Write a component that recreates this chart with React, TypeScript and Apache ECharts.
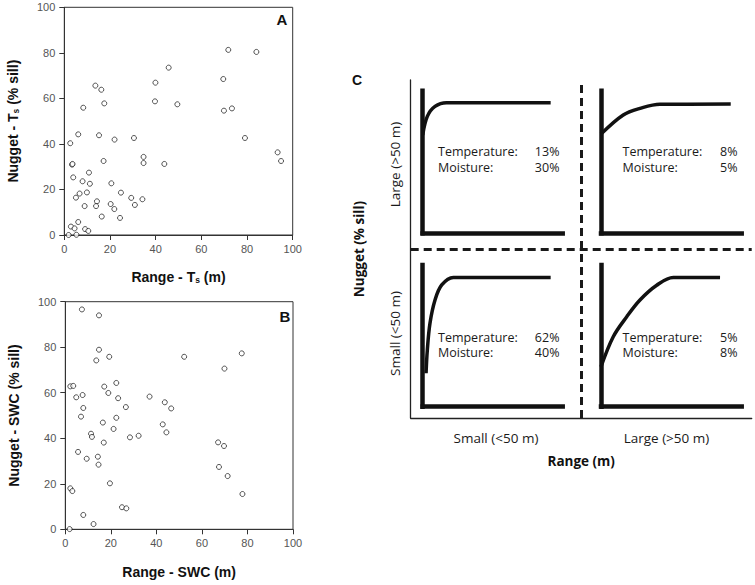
import React, { useEffect, useRef } from "react";
import * as echarts from "echarts";

// Panel A: range and nugget of soil temperature (Ts)
const tsRange = [71.8, 84.1, 45.7, 69.6, 39.9, 13.6, 16.2, 39.7, 49.5, 17.5, 8.3, 69.9, 73.4, 6.1, 15.2, 30.5, 22.0, 79.1, 2.6, 93.4, 94.9, 34.7, 34.7, 43.8, 17.2, 3.4, 3.6, 3.9, 10.8, 8.0, 11.2, 20.6, 6.7, 5.1, 9.9, 24.8, 29.3, 34.2, 14.3, 13.9, 8.9, 20.3, 30.9, 21.9, 16.4, 24.4, 6.1, 2.9, 4.5, 9.1, 10.5, 1.9, 5.3];
const tsNugget = [81.3, 80.4, 73.5, 68.5, 66.9, 65.6, 63.8, 58.7, 57.4, 57.8, 55.9, 54.6, 55.6, 44.2, 43.8, 42.6, 41.9, 42.6, 40.3, 36.3, 32.5, 34.3, 31.6, 31.2, 32.5, 30.9, 31.2, 25.3, 27.4, 23.6, 22.5, 22.7, 18.2, 16.4, 18.7, 18.6, 16.3, 15.7, 14.8, 12.7, 12.7, 13.6, 13.2, 11.4, 8.1, 7.5, 5.7, 3.7, 2.9, 2.6, 1.8, 0.0, 0.1];

// Panel B: range and nugget of soil water content (SWC)
const swcRange = [7.3, 14.8, 14.8, 13.6, 19.3, 52.2, 77.5, 69.9, 2.2, 3.5, 17.1, 22.4, 4.8, 7.6, 18.9, 23.2, 37.0, 7.9, 6.9, 26.6, 43.7, 46.5, 22.4, 16.5, 42.8, 44.4, 11.3, 11.7, 21.2, 28.4, 32.2, 16.9, 67.1, 69.7, 5.6, 9.4, 14.3, 14.6, 67.5, 71.3, 19.6, 2.2, 3.1, 77.8, 24.9, 26.8, 7.9, 12.4, 1.9];
const swcNugget = [96.6, 94.0, 78.9, 74.2, 75.8, 75.8, 77.3, 70.6, 62.8, 63.0, 62.7, 64.3, 58.0, 59.0, 59.9, 57.6, 58.3, 53.3, 49.5, 53.7, 55.8, 53.1, 49.0, 46.9, 46.1, 42.6, 42.0, 40.6, 44.1, 40.4, 41.1, 38.1, 38.2, 36.6, 34.0, 31.0, 31.9, 28.4, 27.4, 23.4, 20.2, 18.0, 16.8, 15.5, 9.7, 9.2, 6.3, 2.3, 0.1];

// Panel C: conceptual categories and percentages
const rangeClasses = ["Small (<50 m)", "Large (>50 m)"];
const nuggetClasses = ["Small (<50 m)", "Large (>50 m)"];
// order: top-left, top-right, bottom-left, bottom-right
const quadrantTemperature = ["13%", "8%", "62%", "5%"];
const quadrantMoisture = ["30%", "5%", "40%", "8%"];
// schematic variogram curves (x: % of panel width, y: % of panel height)
const curveTL = [[0, 69], [3.3, 82], [8.8, 89], [17, 91.6], [91.4, 91.6]];
const curveTR = [[0, 69.6], [15.8, 83], [27.7, 87.6], [41.9, 90.5], [92.2, 90.6]];
const curveBL = [[2.4, 23.6], [3.3, 40], [5.2, 58.9], [8.8, 75.3], [13.6, 85.9], [21.9, 91.2], [91.4, 91.2]];
const curveBR = [[0, 28.2], [8.7, 49.4], [18.3, 63.5], [27.7, 75.3], [39.6, 85.7], [51.4, 91.2], [84.6, 91.2]];

const ARIAL = "'Liberation Sans', Arial, sans-serif";
const MYRIAD = "'Open Sans', 'Noto Sans', sans-serif";

const zip = (xs: number[], ys: number[]) => xs.map((x, i) => [x, ys[i]]);

function scatterAxes(gridIndex: number, labelMargin: number) {
  return {
    gridIndex,
    type: "value" as const,
    min: 0,
    max: 100,
    interval: 20,
    axisLine: { show: true, lineStyle: { color: "#333", width: 1 } },
    axisTick: { show: true, length: 5, lineStyle: { color: "#333" } },
    splitLine: { show: false },
    axisLabel: { fontFamily: ARIAL, fontSize: 11, color: "#555", margin: labelMargin },
    nameLocation: "middle" as const,
  };
}

export default function App() {
  const ref = useRef<HTMLDivElement>(null);

  useEffect(() => {
    if (!ref.current) return;
    const chart = echarts.init(ref.current, null, { renderer: "svg" });

    const titleRich = {
      b: { fontFamily: ARIAL, fontWeight: "bold" as const, fontSize: 14, color: "#111" },
      s: { fontFamily: ARIAL, fontWeight: "bold" as const, fontSize: 8.5, color: "#111", verticalAlign: "bottom" as const, padding: [6, 0, 0, 0] },
    };

    const thickAxis = (gridIndex: number) => ({
      gridIndex,
      type: "value" as const,
      min: 0,
      max: 100,
      axisLine: { show: true, lineStyle: { color: "#111", width: 4.5, cap: "square" } },
      axisTick: { show: false },
      axisLabel: { show: false },
      splitLine: { show: false },
    });

    const curves = [curveTL, curveTR, curveBL, curveBR];

    const quadrantLeft = [438, 622.5, 438, 622.5];
    const quadrantRight = [559.5, 737.5, 559.5, 737.5];
    const quadrantTop = [151.7, 151.7, 337.3, 337.3];

    const annotations: any[] = [];
    quadrantTemperature.forEach((t, i) => {
      const txt = (x: number, y: number, s: string, align: string) => ({
        type: "text",
        x,
        y,
        style: { text: s, fontFamily: MYRIAD, fontSize: 12.5, fill: "#1a1a1a", align, verticalAlign: "middle" },
      });
      annotations.push(txt(quadrantLeft[i], quadrantTop[i], "Temperature:", "left"));
      annotations.push(txt(quadrantLeft[i], quadrantTop[i] + 15.5, "Moisture:", "left"));
      annotations.push(txt(quadrantRight[i], quadrantTop[i], t, "right"));
      annotations.push(txt(quadrantRight[i], quadrantTop[i] + 15.5, quadrantMoisture[i], "right"));
    });

    const option: any = {
      animation: false,
      backgroundColor: "#fff",
      grid: [
        { left: 64.3, top: 7.3, width: 228.4, height: 227.7, show: true, borderColor: "#333", borderWidth: 1, backgroundColor: "transparent" },
        { left: 65.3, top: 301.7, width: 227.7, height: 227.6, show: true, borderColor: "#333", borderWidth: 1, backgroundColor: "transparent" },
        { left: 410.7, top: 80, width: 341, height: 338 },
        { left: 422.7, top: 90.7, width: 140, height: 142.6 },
        { left: 601, top: 90.7, width: 140.7, height: 142.6 },
        { left: 422.7, top: 265, width: 140, height: 141.7 },
        { left: 601, top: 265, width: 140.7, height: 141.7 },
      ],
      xAxis: [
        { ...scatterAxes(0, 8), name: "{b|Range - T}{s|s}{b| (m)}", nameGap: 34, nameTextStyle: { rich: titleRich } },
        { ...scatterAxes(1, 8), name: "Range - SWC (m)", nameGap: 36, nameTextStyle: { fontFamily: ARIAL, fontWeight: "bold", fontSize: 14, color: "#111" } },
        {
          gridIndex: 2,
          type: "value",
          min: 0,
          max: 2,
          interval: 0.5,
          axisLine: { show: true, lineStyle: { color: "#222", width: 1.3 } },
          axisTick: { show: false },
          splitLine: { show: false },
          axisLabel: {
            margin: 13,
            fontFamily: MYRIAD,
            fontSize: 13.5,
            color: "#1a1a1a",
            formatter: (v: number) => (v === 0.5 ? rangeClasses[0] : v === 1.5 ? rangeClasses[1] : ""),
          },
          name: "Range (m)",
          nameLocation: "middle",
          nameGap: 36,
          nameTextStyle: { fontFamily: MYRIAD, fontWeight: "bold", fontSize: 13.5, color: "#111" },
        },
        thickAxis(3),
        thickAxis(4),
        thickAxis(5),
        thickAxis(6),
      ],
      yAxis: [
        { ...scatterAxes(0, 9), name: "{b|Nugget - T}{s|s}{b| (% sill)}", nameGap: 44, nameTextStyle: { rich: titleRich } },
        { ...scatterAxes(1, 9), name: "Nugget - SWC (% sill)", nameGap: 44, nameTextStyle: { fontFamily: ARIAL, fontWeight: "bold", fontSize: 14, color: "#111" } },
        {
          gridIndex: 2,
          type: "value",
          min: 0,
          max: 2,
          interval: 0.5,
          axisLine: { show: true, lineStyle: { color: "#222", width: 1.3 } },
          axisTick: { show: false },
          splitLine: { show: false },
          axisLabel: {
            rotate: 90,
            margin: 9,
            fontFamily: MYRIAD,
            fontSize: 13.5,
            color: "#1a1a1a",
            formatter: (v: number) => (v === 0.5 ? nuggetClasses[0] : v === 1.5 ? nuggetClasses[1] : ""),
          },
          name: "Nugget (% sill)",
          nameLocation: "middle",
          nameGap: 45,
          nameTextStyle: { fontFamily: MYRIAD, fontWeight: "bold", fontSize: 13.5, color: "#111" },
        },
        thickAxis(3),
        thickAxis(4),
        thickAxis(5),
        thickAxis(6),
      ],
      series: [
        {
          type: "scatter",
          xAxisIndex: 0,
          yAxisIndex: 0,
          data: zip(tsRange, tsNugget),
          symbol: "circle",
          symbolSize: 5,
          itemStyle: { color: "#fff", borderColor: "#111", borderWidth: 0.9 },
        },
        {
          type: "scatter",
          xAxisIndex: 1,
          yAxisIndex: 1,
          data: zip(swcRange, swcNugget),
          symbol: "circle",
          symbolSize: 5,
          itemStyle: { color: "#fff", borderColor: "#111", borderWidth: 0.9 },
        },
        {
          type: "line",
          xAxisIndex: 2,
          yAxisIndex: 2,
          data: [],
          markLine: {
            silent: true,
            symbol: ["none", "none"],
            label: { show: false },
            lineStyle: { color: "#1a1a1a", width: 3, type: [8, 5] },
            data: [{ xAxis: 1 }, { yAxis: 1 }],
          },
        },
        ...curves.map((c, i) => ({
          type: "line",
          xAxisIndex: 3 + i,
          yAxisIndex: 3 + i,
          data: c,
          smooth: 0.35,
          showSymbol: false,
          symbol: "none",
          lineStyle: { color: "#111", width: 3.5 },
        })),
      ],
      graphic: [
        { type: "text", x: 282, y: 19, style: { text: "A", fontFamily: ARIAL, fontWeight: "bold", fontSize: 15, fill: "#111", align: "center", verticalAlign: "middle" } },
        { type: "text", x: 285, y: 316, style: { text: "B", fontFamily: ARIAL, fontWeight: "bold", fontSize: 15, fill: "#111", align: "center", verticalAlign: "middle" } },
        { type: "text", x: 357, y: 80, style: { text: "C", fontFamily: ARIAL, fontWeight: "bold", fontSize: 14, fill: "#111", align: "center", verticalAlign: "middle" } },
        ...annotations,
      ],
    };

    chart.setOption(option);
    return () => chart.dispose();
  }, []);

  return (
    <div
      ref={ref}
      style={{ position: "fixed", left: 0, top: 0, width: 755, height: 585, background: "#fff" }}
    />
  );
}
